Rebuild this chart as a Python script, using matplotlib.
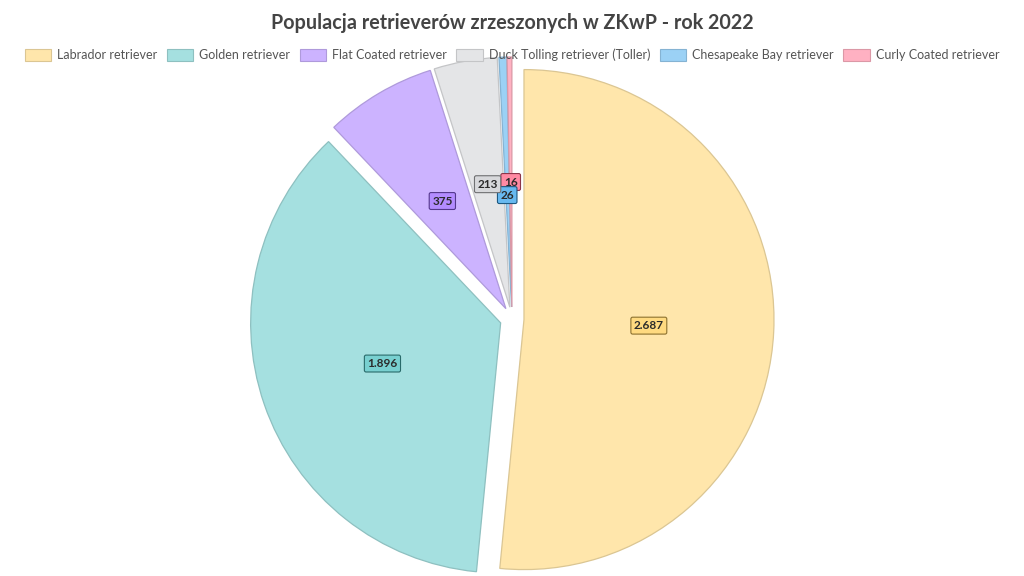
import matplotlib.pyplot as plt
import matplotlib.patches as mpatches
import matplotlib.colors as mcolors
import numpy as np

plt.rcParams['font.family'] = ['Lato', 'DejaVu Sans']

title = "Populacja retrieverów zrzeszonych w ZKwP - rok 2022"
breeds = ["Labrador retriever", "Golden retriever", "Flat Coated retriever",
          "Duck Tolling retriever (Toller)", "Chesapeake Bay retriever",
          "Curly Coated retriever"]
counts = [2687, 1896, 375, 213, 26, 16]

# kolory bazowe (jak w Chart.js), wypełnienie z alpha 0.5
base = ["#ffcd56", "#4bc0c0", "#9966ff", "#c9cbcf", "#36a2eb", "#ff6384"]


def blend(c, a):
    r = np.array(mcolors.to_rgb(c))
    return tuple(r * a + (1 - a))


def darken(c, f):
    return tuple(np.array(mcolors.to_rgb(c)) * f)


fills = [blend(c, 0.5) for c in base]
edges = [darken(f, 0.86) for f in fills]

W, H = 1024, 576
fig = plt.figure(figsize=(W / 100, H / 100), dpi=100)

cx, cy, half = 512, 319, 300
ax = fig.add_axes([(cx - half) / W, (H - cy - half) / H, 2 * half / W, 2 * half / H])

wedges, _ = ax.pie(counts, colors=fills, startangle=90, counterclock=False,
                   explode=[0.048] * len(counts), radius=1,
                   wedgeprops=dict(linewidth=0.9))
for w, c in zip(wedges, edges):
    w.set_edgecolor(c)
ax.set_xlim(-1.2, 1.2)
ax.set_ylim(-1.2, 1.2)
ax.set_aspect('equal')
ax.axis('off')

# etykiety wartości w środku wycinków (r/2), z prostym unikaniem nakładania
placed = []
for i in reversed(range(len(wedges))):
    w = wedges[i]
    mid = np.deg2rad((w.theta1 + w.theta2) / 2)
    x = w.center[0] + 0.5 * w.r * np.cos(mid)
    y = w.center[1] + 0.5 * w.r * np.sin(mid)
    while any(abs(x - px) < 0.04 and abs(y - py) < 0.05 for px, py in placed):
        y -= 0.052
    placed.append((x, y))
    txt = f"{counts[i]:,}".replace(",", ".")
    ax.text(x, y, txt, ha='center', va='center', fontsize=8.5, fontweight='bold',
            color='#2b2b2b', zorder=5,
            bbox=dict(boxstyle='round,pad=0.25,rounding_size=0.15',
                      facecolor=blend(base[i], 0.75), edgecolor=darken(base[i], 0.55),
                      linewidth=0.8))

fig.text(0.5, 1 - 23 / H, title, ha='center', va='center', fontsize=14.2,
         fontweight='bold', color='#444444')

handles = [mpatches.Patch(facecolor=f, edgecolor=c, linewidth=0.8)
           for f, c in zip(fills, edges)]
fig.legend(handles, breeds, loc='center', bbox_to_anchor=(0.5, 1 - 55 / H),
           ncol=len(breeds), frameon=False, fontsize=9, labelcolor='#555555',
           handlelength=2.1, handleheight=1.0, handletextpad=0.5,
           columnspacing=0.75, borderpad=0)

fig.savefig("out.png", dpi=100)
